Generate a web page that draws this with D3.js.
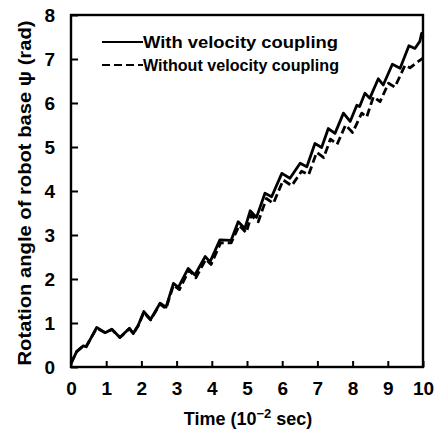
<!DOCTYPE html>
<html><head><meta charset="utf-8">
<script src="https://cdn.jsdelivr.net/npm/d3@7"></script>
<style>body{margin:0;background:#fff}</style>
</head><body><svg id="c" width="434" height="433"></svg>
<script>
const xTicks = [0,1,2,3,4,5,6,7,8,9,10];
const yTicks = [0,1,2,3,4,5,6,7,8];
const seriesNames = ["With velocity coupling","Without velocity coupling"];
const withT = [0,0.16,0.35,0.43,0.59,0.73,0.97,1.16,1.39,1.66,1.77,1.91,2.07,2.26,2.53,2.70,2.91,3.05,3.33,3.52,3.81,3.95,4.23,4.55,4.75,4.94,5.09,5.27,5.51,5.70,5.99,6.22,6.51,6.70,6.93,7.12,7.31,7.50,7.74,7.93,8.12,8.20,8.35,8.49,8.73,8.87,9.13,9.35,9.60,9.77,9.91,9.96,10];
const withV = [0.08,0.35,0.48,0.46,0.69,0.90,0.78,0.86,0.67,0.88,0.76,0.95,1.26,1.08,1.45,1.36,1.90,1.81,2.24,2.09,2.51,2.39,2.89,2.88,3.30,3.15,3.55,3.40,3.95,3.87,4.40,4.29,4.63,4.55,5.08,4.99,5.42,5.31,5.77,5.58,5.95,5.92,6.22,6.11,6.55,6.41,6.88,6.79,7.30,7.24,7.40,7.58,7.50];
const withoutT = [0,0.16,0.35,0.43,0.59,0.73,0.97,1.16,1.39,1.66,1.77,1.91,2.07,2.26,2.53,2.70,2.91,3.08,3.35,3.55,3.83,3.98,4.25,4.55,4.78,4.98,5.12,5.32,5.55,5.75,6.03,6.27,6.55,6.75,6.98,7.18,7.37,7.56,7.80,8.00,8.26,8.40,8.59,8.78,9.02,9.20,9.49,9.63,9.82,10];
const withoutV = [0.08,0.35,0.48,0.46,0.69,0.88,0.78,0.85,0.67,0.87,0.76,0.94,1.24,1.07,1.43,1.33,1.86,1.76,2.20,2.03,2.45,2.33,2.82,2.82,3.22,3.05,3.45,3.30,3.83,3.72,4.25,4.12,4.45,4.37,4.88,4.76,5.18,5.06,5.50,5.33,5.77,5.68,6.14,6.03,6.45,6.36,6.86,6.80,6.92,7.02];

const svg = d3.select("#c");
const L=71,R=423,T=15,B=367;
const x = d3.scaleLinear().domain([0,10]).range([L,R]);
const y = d3.scaleLinear().domain([0,8]).range([B,T]);
const font = "'Liberation Sans', Arial, sans-serif";

svg.append("rect").attr("x",L).attr("y",T).attr("width",R-L).attr("height",B-T)
  .attr("fill","none").attr("stroke","#000").attr("stroke-width",2.4);

const xa = svg.append("g").attr("transform",`translate(0,${B})`)
  .call(d3.axisBottom(x).tickValues(xTicks).tickSizeInner(-6).tickSizeOuter(0).tickPadding(15).tickFormat(d3.format("d")));
xa.select(".domain").remove();
xa.selectAll("line").attr("stroke-width",2);
xa.selectAll("text").attr("font-family",font).attr("font-size",19).attr("font-weight","bold").attr("fill","#000");

const ya = svg.append("g").attr("transform",`translate(${L},0)`)
  .call(d3.axisLeft(y).tickValues(yTicks).tickSizeInner(-7).tickSizeOuter(0).tickPadding(16).tickFormat(d3.format("d")));
ya.select(".domain").remove();
ya.selectAll("line").attr("stroke-width",2);
ya.selectAll("text").attr("font-family",font).attr("font-size",19).attr("font-weight","bold").attr("fill","#000");

const line = d3.line().x(d=>x(d[0])).y(d=>y(d[1]));
const solid = withT.map((t,i)=>[t,withV[i]]);
const dashed = withoutT.map((t,i)=>[t,withoutV[i]]);
svg.append("path").datum(dashed).attr("d",line).attr("fill","none").attr("stroke","#000")
  .attr("stroke-width",2.8).attr("stroke-dasharray","8,4").attr("stroke-linejoin","round");
svg.append("path").datum(solid).attr("d",line).attr("fill","none").attr("stroke","#000")
  .attr("stroke-width",2.8).attr("stroke-linejoin","round");

const leg = [{y:42,dash:null},{y:65,dash:"8,4"}];
leg.forEach((l,i)=>{
  svg.append("line").attr("x1",102).attr("x2",143).attr("y1",l.y).attr("y2",l.y)
    .attr("stroke","#000").attr("stroke-width",2.2).attr("stroke-dasharray",l.dash);
  svg.append("text").attr("x",143).attr("y",l.y+6).text(seriesNames[i])
    .attr("font-family",font).attr("font-size",17).attr("font-weight","bold")
    .attr("textLength", i===0?195:196).attr("lengthAdjust","spacingAndGlyphs");
});

const xt = svg.append("text").attr("x",248).attr("y",425).attr("text-anchor","middle")
  .attr("font-family",font).attr("font-size",18).attr("font-weight","bold");
xt.append("tspan").text("Time (10");
xt.append("tspan").text("−2").attr("font-size",13).attr("dy",-7);
xt.append("tspan").text(" sec)").attr("dy",7);

svg.append("text").attr("transform","translate(31,193) rotate(-90)").attr("text-anchor","middle")
  .attr("font-family",font).attr("font-size",18).attr("font-weight","bold")
  .attr("textLength",345).attr("lengthAdjust","spacingAndGlyphs")
  .text("Rotation angle of robot base ψ (rad)");
</script></body></html>
